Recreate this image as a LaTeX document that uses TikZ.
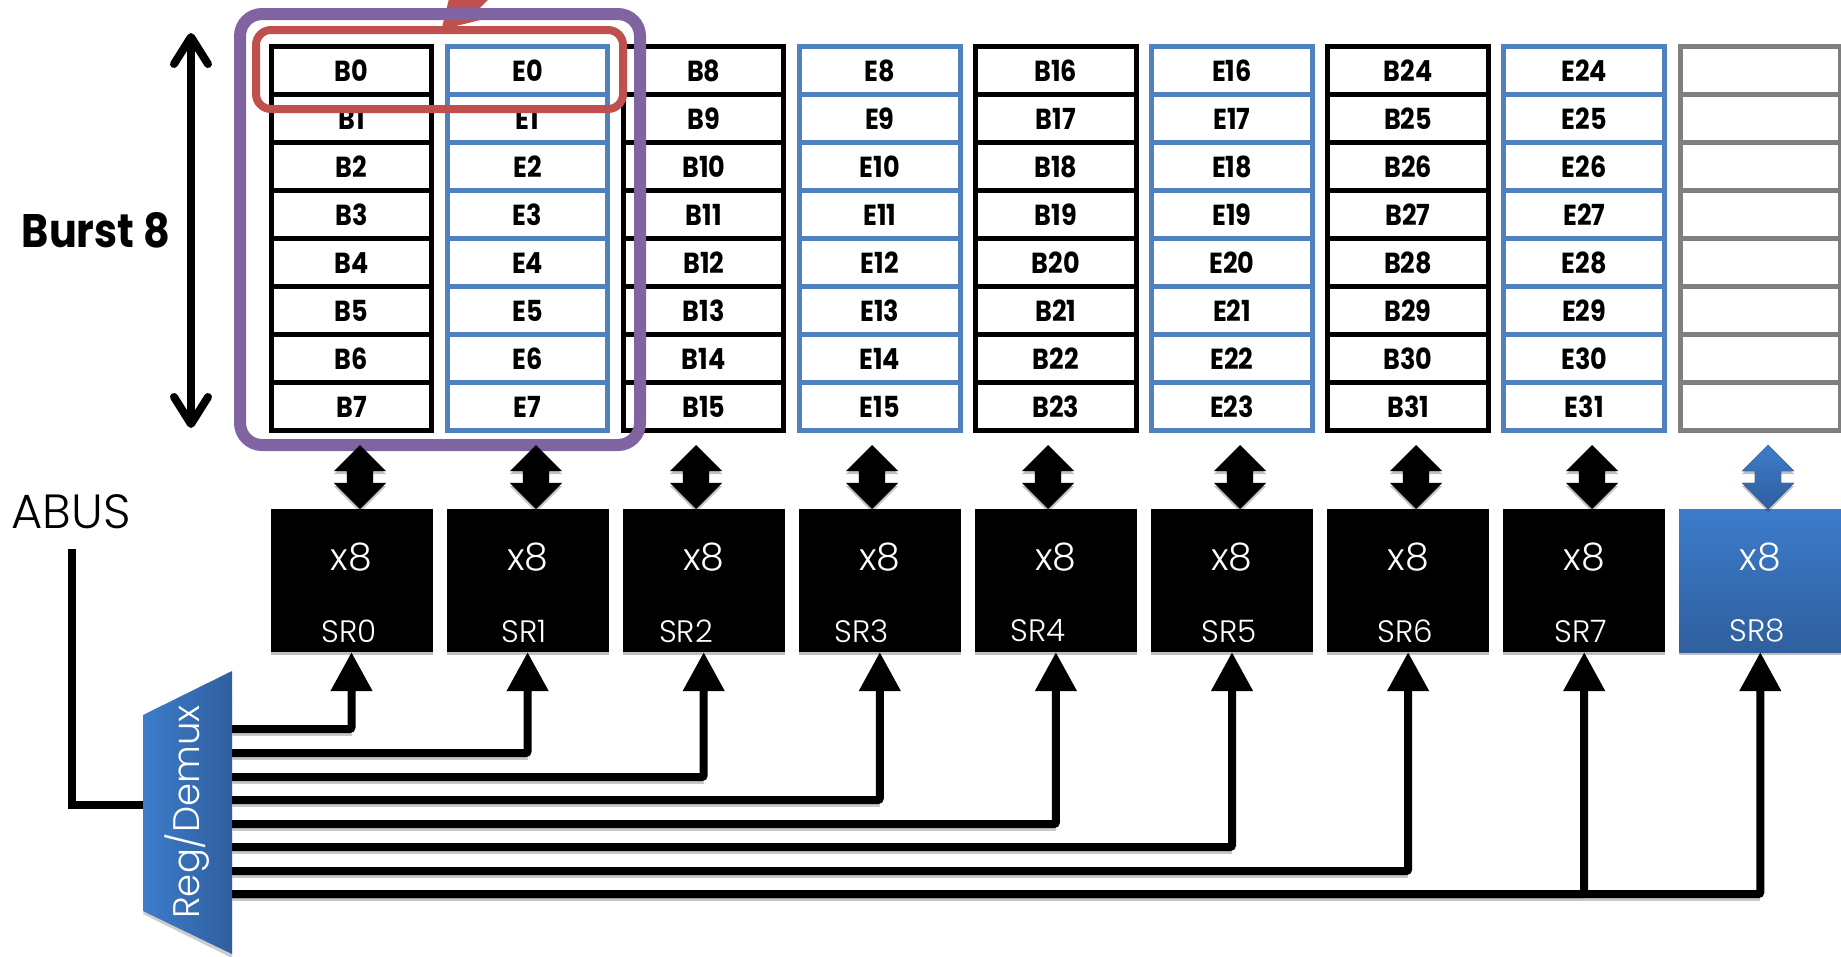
\documentclass[tikz,border=0pt]{standalone}
\usepackage{fontspec}
\usepackage{xcolor}
\usepackage{tikz}
\usetikzlibrary{positioning, arrows.meta, shapes.arrows, shadows}
\setmainfont{Poppins}
\newfontfamily\lightfont{Poppins Light}
\newfontfamily\boldfont[FakeStretch=0.88]{Poppins Bold}
\definecolor{cellblue}{HTML}{4F81BD}
\definecolor{cellgray}{HTML}{7F7F7F}
\definecolor{boxred}{HTML}{C0504D}
\definecolor{boxpurple}{HTML}{8064A2}
\definecolor{srtop}{HTML}{3D7CCB}
\definecolor{srbot}{HTML}{2F5F9E}
\tikzset{
  softshadow/.style={drop shadow={shadow xshift=0pt, shadow yshift=-3pt, opacity=.25, fill=black}},
  cellbox/.style={draw=black, fill=white, line width=5pt, inner sep=0pt, text height=23pt, text depth=0pt, minimum width=160.5pt, minimum height=48pt, font=\boldfont\fontsize{29}{29}\selectfont},
  srbox/.style={fill=black, inner sep=0pt, minimum width=162pt, minimum height=143pt, softshadow},
  bluefill/.style={top color=srtop, bottom color=srbot},
  xlabel/.style={text=white, inner sep=0pt, font=\lightfont\fontsize{38}{38}\selectfont},
  srlabel/.style={text=white, inner sep=0pt, font=\lightfont\fontsize{31}{31}\selectfont},
  dblarrow/.style={double arrow, shape border rotate=90, fill=black, inner sep=13pt, minimum height=64pt, double arrow head extend=13pt, double arrow tip angle=90, softshadow},
  wire/.style={line width=8pt, rounded corners=2pt, -{Triangle[width=40pt, length=39pt]}},
  wireshade/.style={line width=8pt, draw=black!22},
}
\begin{document}
\begin{tikzpicture}[x=1pt, y=-1pt]
  \useasboundingbox (0,0) rectangle (1841,956);

  % memory cells
  \foreach \c/\k/\col in {0/B/black, 1/E/cellblue, 2/B/black, 3/E/cellblue, 4/B/black, 5/E/cellblue, 6/B/black, 7/E/cellblue} {
    \foreach \r in {0,...,7} {
      \pgfmathtruncatemacro\num{int(\c/2)*8+\r}
      \node[cellbox, draw=\col] (cell\c-\r) at (351.5+176.1*\c, 70+48*\r) {\k\num};
    }
  }
  \foreach \r in {0,...,7} {
    \node[cellbox, draw=cellgray] (cell8-\r) at (351.5+176.1*8, 70+48*\r) {};
  }

  % burst and highlight boxes
  \coordinate (redfrom) at (520,-49);
  \node[inner sep=0pt, minimum width=367pt, minimum height=79pt] (redbox) at (439.5,69.5) {};
  \draw[boxred, line width=24pt, -{Triangle[width=48pt, length=43pt]}] (redfrom) -- (441,30);
  \node[draw=boxpurple, line width=12pt, rounded corners=22pt, inner sep=0pt, minimum width=400pt, minimum height=431pt] (burstbox) at (440,229.5) {};
  \node[draw=boxred, line width=8pt, rounded corners=15pt, inner sep=0pt, minimum width=367pt, minimum height=79pt] at (redbox) {};

  % burst length
  \node[inner sep=0pt, font=\boldfont\fontsize{47}{47}\selectfont] (burst) at (96,230) {Burst 8};
  \coordinate (bursttop) at (191,33);
  \coordinate (burstbot) at (191,428);
  \draw[line width=8pt, {Straight Barb[width=34pt, length=27pt, round]}-{Straight Barb[width=34pt, length=27pt, round]}] (bursttop) -- (burstbot);

  % shift registers
  \foreach \i/\lx/\ax in {0/349/360, 1/524/536, 2/686/696, 3/862/872, 4/1038/1048, 5/1229/1240, 6/1405/1416, 7/1581/1592} {
    \node[srbox] (sr\i) at (351.5+176.1*\i, 580.5) {};
    \node[xlabel] (x\i) at (351.5+176.1*\i, 557) {x8};
    \node[srlabel] (srname\i) at (\lx, 631) {SR\i};
    \node[dblarrow] (dbl\i) at (\ax, 477) {};
  }
  \node[srbox, bluefill] (sr8) at (351.5+176.1*8, 580.5) {};
  \node[xlabel] (x8) at (351.5+176.1*8, 557) {x8};
  \node[srlabel] (srname8) at (1757, 631) {SR8};
  \node[dblarrow, bluefill] (dbl8) at (1768, 477) {};

  % demux
  \fill[black!20] (143,914) -- (232,958) -- (232,700) -- cycle;
  \shade[left color=srtop, right color=srbot] (143,715) -- (232,671) -- (232,954) -- (143,911) -- cycle;
  \node[rotate=90, text=white, inner sep=0pt, font=\lightfont\fontsize{37}{37}\selectfont] (demux) at (187,812) {Reg/Demux};
  \coordinate (demuxin) at (143,805);

  % address bus
  \node[inner sep=0pt, font=\lightfont\fontsize{48}{48}\selectfont] (abus) at (71,512) {ABUS};
  \coordinate (abusend) at (72,549);
  \draw[line width=8pt] (abusend) |- (demuxin);

  % wires from demux to registers
  \foreach \i/\y in {0/729, 1/753, 2/777, 3/800, 4/824, 5/847, 6/871, 7/894} {
    \coordinate (wire\i) at (232,\y);
    \draw[wireshade] (232,\y+3) -- (sr\i.south |- 232,\y+3);
  }
  \draw[wireshade] (wire7 |- 0,897) -- (sr8.south |- 0,897);
  \foreach \i in {0,...,7} {
    \draw[wire] (wire\i) -| (sr\i.south);
  }
  \draw[wire] (wire7) -| (sr8.south);
\end{tikzpicture}
\end{document}
